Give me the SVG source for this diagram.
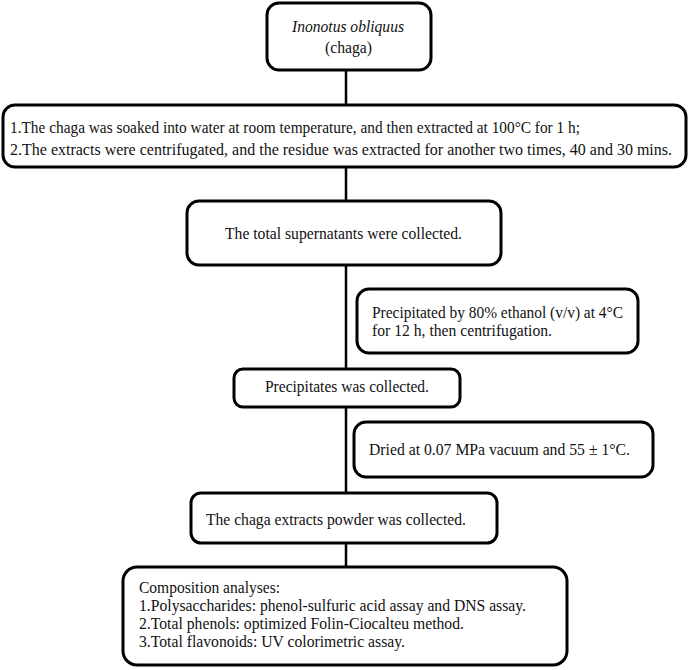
<svg xmlns="http://www.w3.org/2000/svg" width="692" height="670" viewBox="0 0 692 670">
<style>
.box{fill:#fff;stroke:#000;stroke-width:3}
.t{font-family:"Liberation Serif","Times New Roman",serif;font-size:16.5px;fill:#111}
.c{stroke:#000;stroke-width:2.5;fill:none}
</style>
<rect width="692" height="670" fill="#fff"/>
<g id="connectors">
<line class="c" x1="346" y1="70" x2="346" y2="105"/>
<line class="c" x1="346" y1="167" x2="346" y2="201"/>
<line class="c" x1="346" y1="265" x2="346" y2="369"/>
<line class="c" x1="346" y1="407" x2="346" y2="493"/>
<line class="c" x1="346" y1="543" x2="346" y2="567"/>
</g>
<g id="n1">
<rect class="box" x="267" y="3" width="164" height="67" rx="12"/>
<text class="t" x="292" y="32" font-style="italic" textLength="112" lengthAdjust="spacingAndGlyphs">Inonotus obliquus</text>
<text class="t" x="325" y="53" textLength="47" lengthAdjust="spacingAndGlyphs">(chaga)</text>
</g>
<g id="n2">
<rect class="box" x="3" y="105" width="683" height="62" rx="12"/>
<text class="t" x="10" y="133" textLength="570" lengthAdjust="spacingAndGlyphs">1.The chaga was soaked into water at room temperature, and then extracted at 100°C for 1 h;</text>
<text class="t" x="10" y="155" textLength="662" lengthAdjust="spacingAndGlyphs">2.The extracts were centrifugated, and the residue was extracted for another two times, 40 and 30 mins.</text>
</g>
<g id="n3">
<rect class="box" x="187" y="201" width="314" height="64" rx="12"/>
<text class="t" x="225" y="239" textLength="237" lengthAdjust="spacingAndGlyphs">The total supernatants were collected.</text>
</g>
<g id="n4">
<rect class="box" x="357" y="289" width="281" height="64" rx="12"/>
<text class="t" x="372" y="318" textLength="251" lengthAdjust="spacingAndGlyphs">Precipitated by 80% ethanol (v/v) at 4°C</text>
<text class="t" x="372" y="336" textLength="180" lengthAdjust="spacingAndGlyphs">for 12 h, then centrifugation.</text>
</g>
<g id="n5">
<rect class="box" x="234" y="369" width="226" height="38" rx="9"/>
<text class="t" x="265" y="392" textLength="164" lengthAdjust="spacingAndGlyphs">Precipitates was collected.</text>
</g>
<g id="n6">
<rect class="box" x="354" y="422" width="299" height="55" rx="12"/>
<text class="t" x="369" y="455" textLength="261" lengthAdjust="spacingAndGlyphs">Dried at 0.07 MPa vacuum and 55 ± 1°C.</text>
</g>
<g id="n7">
<rect class="box" x="191" y="493" width="306" height="50" rx="10"/>
<text class="t" x="206" y="525" textLength="260" lengthAdjust="spacingAndGlyphs">The chaga extracts powder was collected.</text>
</g>
<g id="n8">
<rect class="box" x="123" y="567" width="444" height="98" rx="14"/>
<text class="t" x="139" y="593" textLength="141" lengthAdjust="spacingAndGlyphs">Composition analyses:</text>
<text class="t" x="139" y="611" textLength="387" lengthAdjust="spacingAndGlyphs">1.Polysaccharides: phenol-sulfuric acid assay and DNS assay.</text>
<text class="t" x="139" y="629" textLength="325" lengthAdjust="spacingAndGlyphs">2.Total phenols: optimized Folin-Ciocalteu method.</text>
<text class="t" x="139" y="647" textLength="266" lengthAdjust="spacingAndGlyphs">3.Total flavonoids: UV colorimetric assay.</text>
</g>
</svg>
